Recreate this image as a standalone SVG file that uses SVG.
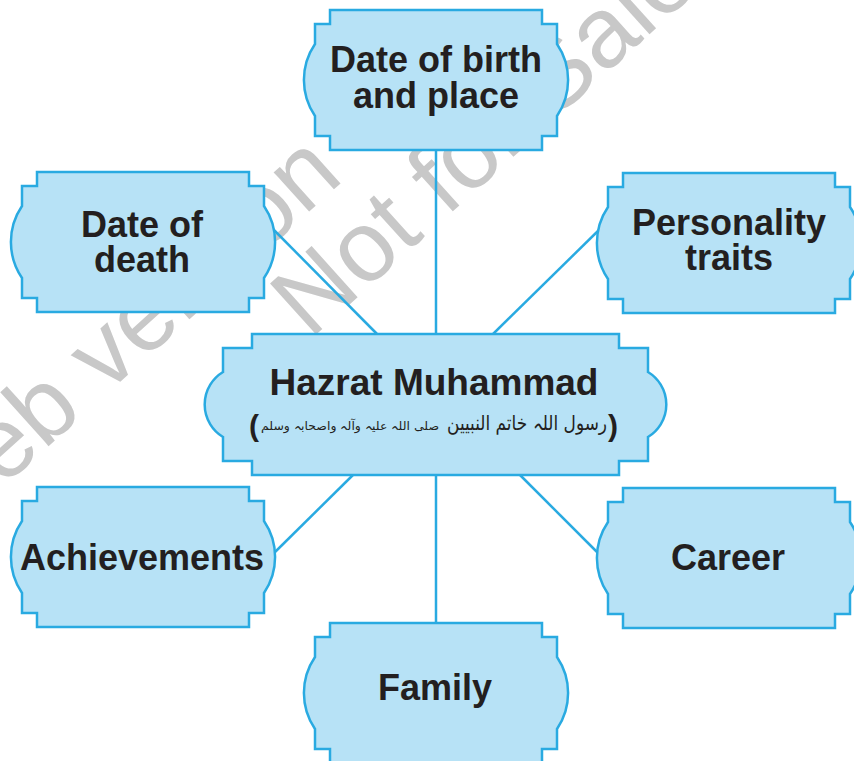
<svg xmlns="http://www.w3.org/2000/svg" xmlns:xlink="http://www.w3.org/1999/xlink" width="854" height="761" viewBox="0 0 854 761">
<style>
.shape{fill:#b7e2f6;stroke:#29aae1;stroke-width:2.5;stroke-linejoin:miter}
.conn{stroke:#29aae1;stroke-width:2.5;fill:none}
.lbl{font-family:"Liberation Sans",Arial,sans-serif;font-weight:bold;font-size:36px;fill:#231f20;text-anchor:middle}
.urdu{font-family:"DejaVu Sans",sans-serif;fill:#231f20;text-anchor:middle}
.wm{font-family:"Liberation Sans",Arial,sans-serif;font-size:100px;fill:#c8c8c8}
</style>
<defs>
<path id="outer" d="M15,0 H227 V14 H242 V34 A64,64 0 0 1 242,106 V126 H227 V140 H15 V126 H0 V106 A64,64 0 0 1 0,34 V14 H15 Z"/>
<path id="centerShape" d="M29,0 H396 V14 H425 V38 A38,38 0 0 1 425,103 V127 H396 V141 H29 V127 H0 V103 A38,38 0 0 1 0,38 V14 H29 Z"/>
</defs>
<rect width="854" height="761" fill="#ffffff"/>
<g id="watermark" transform="translate(310,340) rotate(-42)">
<text class="wm" x="0" y="0">Not for Sale</text>
<text class="wm" x="134" y="-96" text-anchor="end">Web version</text>
</g>
<g id="connectors">
<line class="conn" x1="436" y1="145" x2="436" y2="340"/>
<line class="conn" x1="268" y1="224" x2="380" y2="337"/>
<line class="conn" x1="602" y1="227" x2="490" y2="337"/>
<line class="conn" x1="356" y1="472" x2="271" y2="556"/>
<line class="conn" x1="517" y1="472" x2="601" y2="556"/>
<line class="conn" x1="436" y1="470" x2="436" y2="628"/>
</g>
<g id="node-birth">
<use xlink:href="#outer" class="shape" x="315" y="10"/>
<text class="lbl" x="436" y="72">Date of birth</text>
<text class="lbl" x="436" y="108">and place</text>
</g>
<g id="node-death">
<use xlink:href="#outer" class="shape" x="22" y="172"/>
<text class="lbl" x="142" y="237">Date of</text>
<text class="lbl" x="142" y="272">death</text>
</g>
<g id="node-personality">
<use xlink:href="#outer" class="shape" x="608" y="173"/>
<text class="lbl" x="729" y="235">Personality</text>
<text class="lbl" x="729" y="270">traits</text>
</g>
<g id="node-center">
<use xlink:href="#centerShape" class="shape" x="223" y="334"/>
<text class="lbl" x="434" y="395" style="font-size:37px">Hazrat Muhammad</text>
<text class="lbl" x="254" y="436" style="font-size:30px">(</text>
<text class="urdu" x="527" y="430" font-size="20" textLength="160" lengthAdjust="spacingAndGlyphs">رسول اللہ خاتم النبیین</text>
<text class="urdu" x="350" y="430" font-size="12" textLength="178" lengthAdjust="spacingAndGlyphs">صلی اللہ علیہ وآلہ واصحابہ وسلم</text>
<text class="lbl" x="613" y="436" style="font-size:30px">)</text>
</g>
<g id="node-achievements">
<use xlink:href="#outer" class="shape" x="22" y="487"/>
<text class="lbl" x="142" y="570">Achievements</text>
</g>
<g id="node-career">
<use xlink:href="#outer" class="shape" x="608" y="488"/>
<text class="lbl" x="728" y="570">Career</text>
</g>
<g id="node-family">
<use xlink:href="#outer" class="shape" x="315" y="623"/>
<text class="lbl" x="435" y="700">Family</text>
</g>
</svg>
